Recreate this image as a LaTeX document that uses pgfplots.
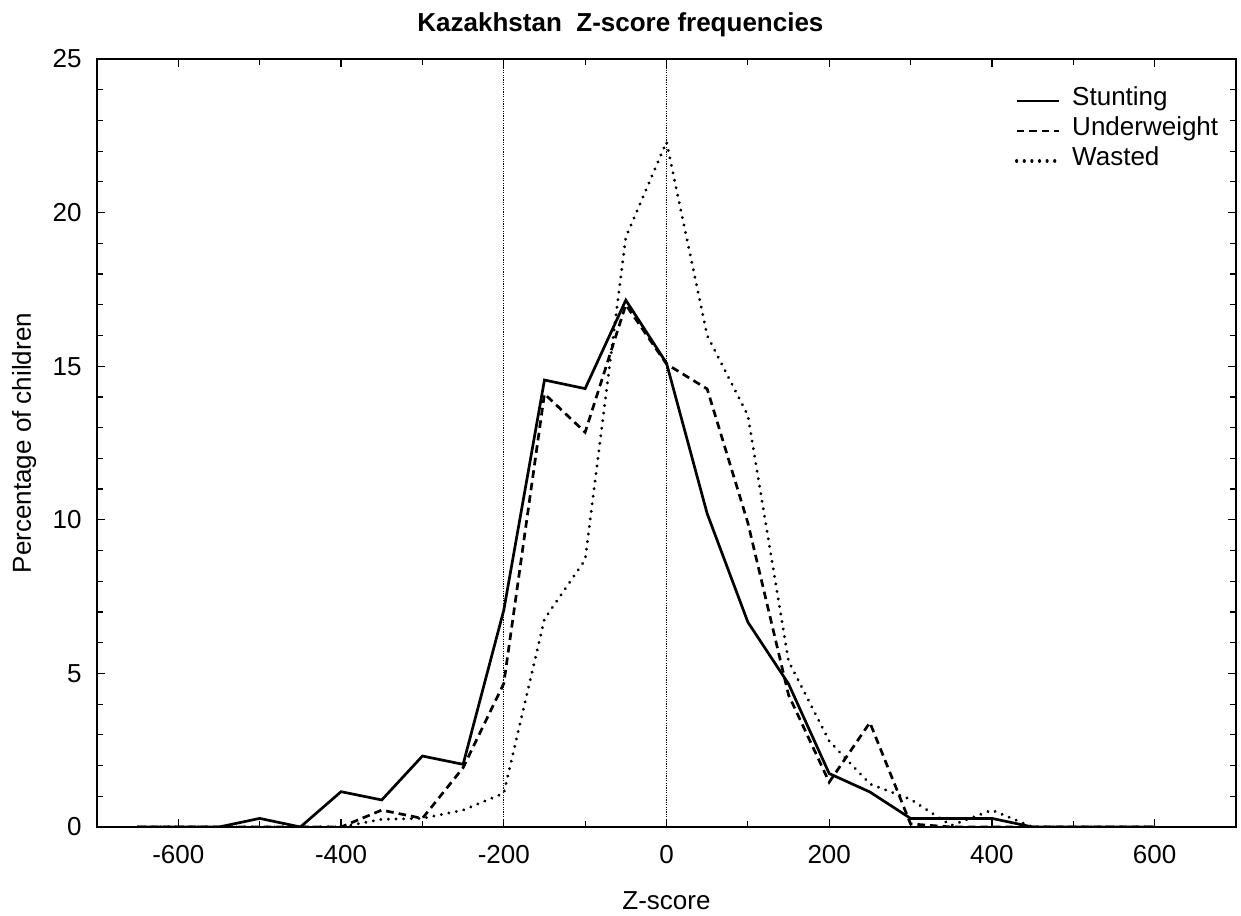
\documentclass[border=0pt]{standalone}
\usepackage{fontspec}
\setmainfont{Liberation Sans}
\usepackage{pgfplots}
\pgfplotsset{compat=1.18}
\begin{document}
\begin{tikzpicture}
\begin{axis}[
  scale only axis,
  width=569.5bp, height=384bp,
  xmin=-700, xmax=700, ymin=0, ymax=25,
  xtick={-600,-400,...,600},
  minor xtick={-500,-300,...,500},
  ytick={0,5,...,25},
  minor y tick num=4,
  tick align=inside,
  major tick length=4bp, minor tick length=3bp,
  every tick/.style={black, line width=0.6bp},
  axis line style={line width=1bp},
  font=\fontsize{13bp}{15bp}\selectfont,
  /pgf/number format/assume math mode=true,
  ticklabel style={font=\fontsize{13bp}{15bp}\selectfont},
  xticklabel style={yshift=-5.7bp},
  yticklabel style={xshift=-4.2bp},
  title={Kazakhstan\ \ Z-score frequencies},
  title style={at={(axis description cs:0.4596,1.0206)}, anchor=base, inner sep=0pt, font=\bfseries\fontsize{13bp}{15bp}\selectfont},
  xlabel={Z-score},
  xlabel style={at={(axis description cs:0.5,-0.108)}, anchor=base, inner sep=0pt},
  ylabel={Percentage of children},
  ylabel style={at={(axis description cs:-0.058,0.5)}, anchor=base, inner sep=0pt},
  legend cell align=left,
  legend style={draw=none, fill=none, inner sep=0pt, outer sep=0pt,
    at={(axis description cs:0.806,0.9648)}, anchor=north west,
    nodes={inner sep=0pt, text height=9.5bp, text depth=5.5bp},
    column sep=6bp},
  legend image code/.code={\draw[#1] (0bp,0bp) -- (21bp,0bp);},
]
\addplot[black, line width=1.35bp, line join=miter] coordinates {
(-650,0) (-600,0) (-550,0) (-500,0.28) (-450,0) (-400,1.15) (-350,0.88)
(-300,2.31) (-250,2.04) (-200,7.06) (-150,14.55) (-100,14.27) (-50,17.15)
(0,15.1) (50,10.2) (100,6.67) (150,4.66) (200,1.74) (250,1.14) (300,0.28)
(350,0.28) (400,0.28) (450,0) (500,0) (550,0) (600,0)};
\addlegendentry{Stunting}
\addplot[black, line width=1.35bp, dash pattern=on 3.8bp off 2.5bp] coordinates {
(-650,0) (-600,0) (-550,0) (-500,0) (-450,0) (-400,0) (-350,0.55)
(-300,0.28) (-250,1.93) (-200,4.67) (-150,14.1) (-100,12.85) (-50,17.0)
(0,15.07) (50,14.26) (100,9.9) (150,4.3) (200,1.46) (250,3.4) (300,0.1)
(350,0) (400,0) (450,0) (500,0) (550,0) (600,0)};
\addlegendentry{Underweight}
\addplot[black, line width=1.6bp, line cap=round, dash pattern=on 0.01bp off 3.8bp] coordinates {
(-650,0) (-600,0) (-550,0) (-500,0) (-450,0) (-400,0) (-350,0.25)
(-300,0.28) (-250,0.55) (-200,1.1) (-150,6.77) (-100,8.7) (-50,19.2)
(0,22.3) (50,16.0) (100,13.4) (150,5.4) (200,2.8) (250,1.4) (300,0.9)
(350,0.05) (400,0.55) (450,0) (500,0) (550,0) (600,0)};
\addlegendentry{Wasted}
\addplot[black, line width=0.5bp, dash pattern=on 0.6bp off 0.6bp, forget plot] coordinates {(-200,0) (-200,25)};
\addplot[black, line width=0.5bp, dash pattern=on 0.6bp off 0.6bp, forget plot] coordinates {(0,0) (0,25)};
\end{axis}
\pgfresetboundingbox
\path[use as bounding box] ([xshift=-48.5bp,yshift=-44.5bp]current axis.south west) rectangle ([xshift=2.5bp,yshift=29.5bp]current axis.north east);
\end{tikzpicture}
\end{document}
